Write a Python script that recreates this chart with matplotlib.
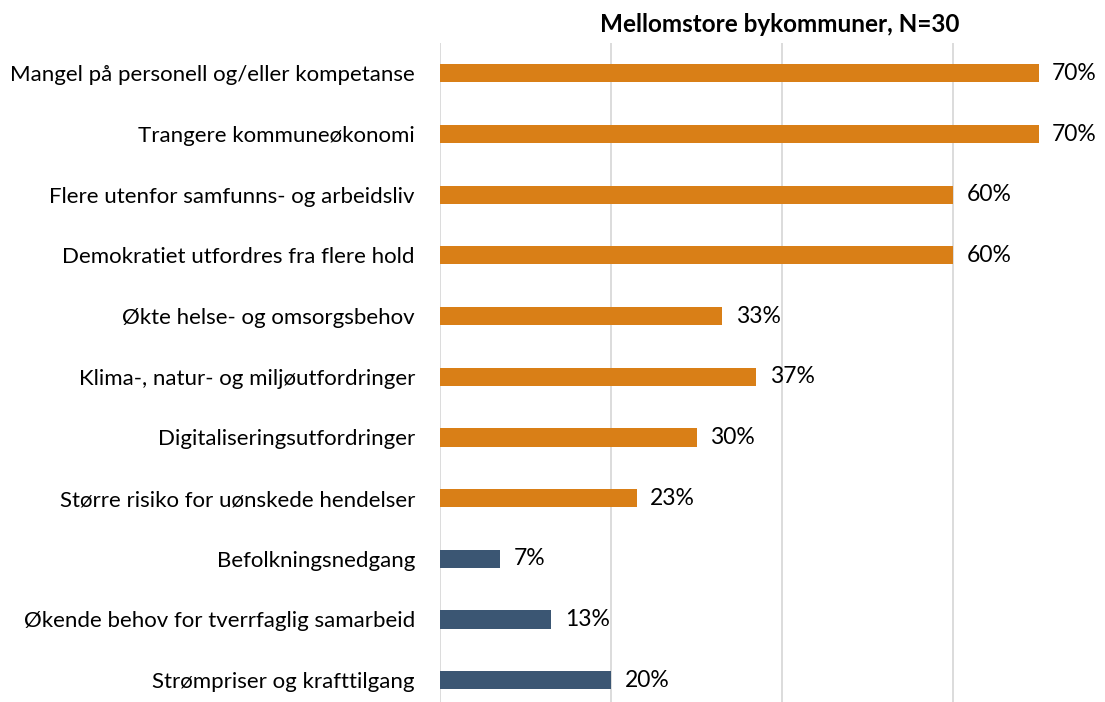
import matplotlib
matplotlib.use("Agg")
import matplotlib.pyplot as plt

categories = [
    "Mangel på personell og/eller kompetanse",
    "Trangere kommuneøkonomi",
    "Flere utenfor samfunns- og arbeidsliv",
    "Demokratiet utfordres fra flere hold",
    "Økte helse- og omsorgsbehov",
    "Klima-, natur- og miljøutfordringer",
    "Digitaliseringsutfordringer",
    "Større risiko for uønskede hendelser",
    "Befolkningsnedgang",
    "Økende behov for tverrfaglig samarbeid",
    "Strømpriser og krafttilgang",
]
values = [70, 70, 60, 60, 33, 37, 30, 23, 7, 13, 20]
groups = ["a"] * 8 + ["b"] * 3
title = "Mellomstore bykommuner, N=30"

colors = {"a": "#D97F17", "b": "#3B5673"}

plt.rcParams['font.family'] = ['Lato', 'DejaVu Sans']

W, H = 1105, 702
fig = plt.figure(figsize=(W / 100, H / 100), dpi=100)
left = 440 / W
top = 43 / H
ax = fig.add_axes([left, 0.0, 1.0 - left, 1.0 - top])

y = list(range(len(categories)))
ax.barh(y, [v / 100 for v in values], height=0.3,
        color=[colors[g] for g in groups], zorder=3)

for yi, v in zip(y, values):
    ax.text(v / 100 + 0.016, yi, f"{v}%", va="center", ha="left",
            fontsize=16.5, color="#000000", zorder=4)

ax.set_xlim(0, (W - 440) / 8.55 / 100)
ax.set_ylim(10.36, -0.5)
ax.set_xticks([0, 0.2, 0.4, 0.6])
ax.xaxis.grid(True, color="#D9D9D9", linewidth=1.3, zorder=0)
ax.tick_params(axis="x", length=0, labelbottom=False)
ax.tick_params(axis="y", length=0, pad=18)
ax.set_yticks(y)
ax.set_yticklabels(categories, fontsize=16)
for s in ax.spines.values():
    s.set_visible(False)

fig.text(780 / W, 1 - 24 / H, title, ha="center", va="center",
         fontsize=17.5, fontweight="bold")

fig.savefig("out.png", dpi=100)
